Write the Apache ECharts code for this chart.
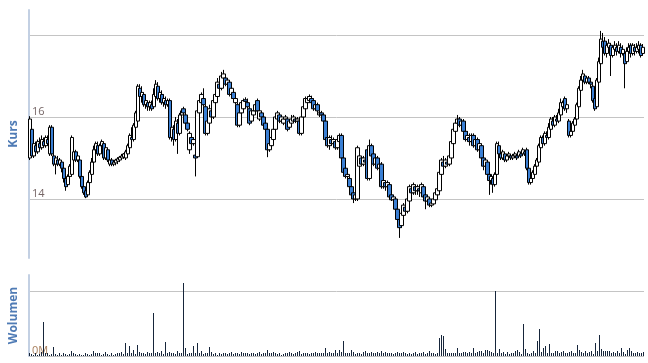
<!DOCTYPE html>
<html>
<head>
<meta charset="utf-8">
<script src="https://cdn.jsdelivr.net/npm/echarts@6/dist/echarts.min.js"></script>
<style>
  html, body { margin: 0; padding: 0; background: #fff; }
  #chart { width: 648px; height: 363px; }
</style>
</head>
<body>
<div id="chart"></div>
<script>
// kurs: [open, close, low, high]
const kurs = [
  [15.00,15.95,14.95,16.02],[15.70,15.05,15.00,15.75],[15.05,15.35,15.00,15.45],[15.30,15.15,15.05,15.40],[15.15,15.40,15.10,15.45],
  [15.35,15.25,15.20,15.50],[15.25,15.45,15.20,15.55],[15.40,15.30,15.25,15.50],[15.30,15.50,15.25,15.55],[15.45,15.35,15.30,15.55],
  [15.10,15.75,15.05,15.80],[15.75,15.10,15.05,15.80],[15.05,14.85,14.80,15.10],[14.85,15.00,14.60,15.05],[14.95,14.85,14.80,15.05],
  [14.85,14.95,14.80,15.00],[14.90,14.75,14.65,14.95],[14.75,14.50,14.40,14.80],[14.50,14.30,14.20,14.55],[14.35,14.55,14.30,14.60],
  [14.55,14.80,14.50,14.85],[14.60,15.50,14.55,15.55],[14.95,15.15,14.90,15.25],[15.15,14.95,14.90,15.20],[14.95,15.05,14.90,15.10],
  [14.95,14.55,14.50,15.00],[14.55,14.30,14.25,14.60],[14.30,14.15,14.10,14.40],[14.20,14.05,14.02,14.25],[14.10,14.40,14.05,14.45],
  [14.40,14.65,14.35,14.70],[14.60,14.90,14.55,15.00],[14.90,15.20,14.85,15.30],[15.20,15.35,15.10,15.40],[15.30,15.10,15.05,15.40],
  [15.10,15.30,15.05,15.35],[15.30,15.40,15.20,15.45],[15.35,15.00,14.95,15.40],[15.00,15.25,14.95,15.30],[15.20,14.95,14.90,15.25],
  [14.85,14.95,14.80,15.00],[14.95,14.85,14.80,15.00],[14.85,14.90,14.80,14.95],[14.88,14.95,14.82,14.98],[14.92,14.98,14.85,15.02],
  [14.95,15.02,14.90,15.05],[15.00,15.05,14.95,15.10],[15.02,15.10,14.98,15.12],[15.00,15.15,14.95,15.20],[15.10,15.30,15.05,15.35],
  [15.25,15.55,15.20,15.60],[15.50,15.45,15.35,15.75],[15.45,15.80,15.40,15.85],[15.75,16.10,15.70,16.15],[15.90,16.75,15.85,16.80],
  [16.70,16.50,16.45,16.80],[16.50,16.60,16.35,16.75],[16.55,16.30,16.25,16.60],[16.30,16.40,16.20,16.45],[16.35,16.25,16.15,16.40],
  [16.25,16.35,16.15,16.40],[16.30,16.20,16.15,16.40],[16.25,16.55,16.20,16.70],[16.50,16.80,16.45,16.90],[16.75,16.45,16.40,16.85],
  [16.45,16.60,16.35,16.70],[16.55,16.35,16.30,16.65],[16.35,16.45,16.25,16.55],[16.40,16.30,16.20,16.50],[16.30,16.40,16.25,16.45],
  [16.40,15.50,15.45,16.45],[15.50,15.75,15.40,15.85],[15.70,15.45,15.30,15.80],[15.45,15.90,15.40,16.00],[15.85,15.60,15.10,15.95],
  [15.60,16.05,15.55,16.10],[16.05,16.15,16.00,16.20],[16.20,16.10,16.05,16.25],[16.05,15.85,15.80,16.10],[15.85,15.70,15.65,15.90],
  [15.20,15.60,15.10,15.65],[15.50,15.35,15.30,15.55],[15.35,15.45,15.30,15.50],[15.07,15.00,14.55,15.10],[15.03,16.15,15.00,16.20],
  [16.10,16.40,16.05,16.45],[16.35,16.55,16.30,16.60],[16.45,16.30,16.25,16.70],[16.25,15.60,15.55,16.30],[15.60,15.90,15.55,16.00],
  [15.85,16.20,15.80,16.30],[16.15,16.00,15.95,16.25],[16.00,16.40,15.95,16.45],[16.35,16.55,16.30,16.65],[16.50,16.85,16.45,16.95],
  [16.80,16.70,16.60,17.00],[16.70,17.00,16.65,17.10],[16.95,17.05,16.85,17.15],[16.95,16.80,16.75,17.05],[16.80,16.90,16.70,16.95],
  [16.85,16.55,16.50,16.90],[16.55,16.70,16.45,16.75],[16.60,16.45,16.40,16.65],[16.35,16.45,16.30,16.55],[16.30,15.80,15.75,16.35],
  [15.80,16.10,15.75,16.15],[16.10,16.35,16.05,16.40],[16.20,16.40,16.15,16.45],[16.42,16.38,16.30,16.48],[16.35,16.25,16.20,16.45],
  [16.20,15.85,15.80,16.25],[15.90,16.15,15.85,16.20],[16.05,16.15,16.00,16.20],[16.15,16.30,16.10,16.35],[16.40,16.15,16.10,16.45],
  [15.95,16.15,15.90,16.20],[16.10,16.00,15.90,16.15],[16.00,15.80,15.75,16.05],[15.85,15.70,15.65,15.90],[15.70,15.20,15.02,15.75],
  [15.20,15.35,15.15,15.40],[15.30,15.50,15.25,15.55],[15.45,15.70,15.40,15.80],[15.70,16.00,15.65,16.05],[15.95,16.10,15.85,16.15],
  [16.05,15.90,15.85,16.10],[15.90,16.00,15.85,16.05],[15.85,15.95,15.80,16.00],[15.95,16.00,15.85,16.05],[15.95,15.70,15.65,16.00],
  [15.75,15.90,15.70,15.95],[15.85,15.95,15.80,16.05],[15.90,16.00,15.85,16.05],[15.95,15.90,15.85,16.00],[15.90,15.95,15.85,16.00],
  [15.90,15.60,15.55,15.95],[15.60,16.00,15.55,16.05],[16.00,16.25,15.95,16.30],[16.20,16.45,16.15,16.50],[16.35,16.45,16.30,16.50],
  [16.40,16.50,16.35,16.55],[16.45,16.35,16.30,16.52],[16.40,16.20,16.15,16.45],[16.20,16.30,16.15,16.35],[16.30,16.15,16.10,16.35],
  [16.05,16.10,16.00,16.15],[16.10,16.05,15.98,16.15],[16.05,15.90,15.85,16.10],[15.90,15.45,15.40,15.95],[15.50,15.30,15.25,15.55],
  [15.30,15.50,15.20,15.55],[15.45,15.35,15.30,15.55],[15.35,15.45,15.30,15.50],[15.40,15.25,15.20,15.45],[15.25,15.45,15.20,15.50],
  [15.40,15.55,15.35,15.60],[15.55,15.00,14.95,15.60],[15.00,14.65,14.60,15.05],[14.75,14.55,14.50,14.80],[14.55,14.60,14.45,14.70],
  [14.50,14.30,14.25,14.55],[14.30,14.10,14.00,14.35],[14.15,14.00,13.90,14.20],[14.00,14.10,13.95,14.15],[14.00,15.25,13.95,15.30],
  [14.80,15.05,14.75,15.10],[15.00,14.85,14.80,15.05],[14.85,15.00,14.80,15.05],[14.95,14.90,14.85,15.00],[15.20,14.50,14.45,15.25],
  [14.50,15.30,14.45,15.45],[15.30,15.05,15.00,15.35],[15.10,14.85,14.80,15.15],[14.85,15.00,14.80,15.05],[15.00,14.75,14.70,15.05],
  [14.75,14.85,14.65,14.90],[14.85,14.30,14.25,14.90],[14.30,14.45,14.25,14.50],[14.40,14.30,14.20,14.45],[14.30,14.40,14.15,14.45],
  [14.35,14.05,14.00,14.40],[14.10,13.98,13.95,14.15],[13.98,14.05,13.90,14.10],[14.00,13.75,13.70,14.05],[13.75,13.50,13.40,13.80],
  [13.50,13.30,13.05,13.55],[13.35,13.65,13.30,13.70],[13.60,13.85,13.55,13.90],[13.80,13.70,13.65,13.90],[13.70,14.00,13.65,14.05],
  [13.95,14.30,13.90,14.35],[14.25,14.15,14.10,14.35],[14.15,14.35,14.10,14.40],[14.30,14.20,14.10,14.35],[14.20,14.30,14.10,14.35],
  [14.25,14.20,14.05,14.30],[14.15,14.35,14.10,14.40],[14.30,14.05,14.00,14.35],[14.10,13.95,13.75,14.15],[13.95,14.05,13.90,14.10],
  [14.00,13.85,13.80,14.05],[13.85,13.90,13.80,13.95],[13.88,14.00,13.85,14.05],[13.98,14.15,13.95,14.20],[14.10,14.25,14.05,14.30],
  [14.20,14.65,14.15,14.70],[14.60,14.95,14.55,15.00],[14.90,14.80,14.75,15.05],[14.80,14.95,14.75,15.00],[14.90,14.85,14.80,15.00],
  [14.85,15.05,14.80,15.10],[15.00,15.40,14.95,15.45],[15.35,15.70,15.30,15.75],[15.65,15.85,15.60,15.95],[15.85,15.95,15.75,16.05],
  [15.95,15.80,15.75,16.00],[15.80,15.90,15.70,15.95],[15.90,15.65,15.60,15.95],[15.65,15.45,15.40,15.70],[15.45,15.55,15.40,15.65],
  [15.50,15.40,15.30,15.60],[15.40,15.55,15.35,15.60],[15.55,15.30,15.25,15.60],[15.30,15.45,15.25,15.55],[15.45,15.20,15.15,15.50],
  [15.20,15.35,15.15,15.40],[15.30,15.00,14.95,15.35],[15.00,14.80,14.70,15.05],[14.80,14.95,14.75,15.00],[14.90,14.60,14.55,14.95],
  [14.60,14.45,14.10,14.65],[14.45,14.55,14.35,14.60],[14.50,14.35,14.15,14.55],[14.35,14.60,14.30,14.65],[14.60,15.35,14.55,15.40],
  [15.30,15.10,15.00,15.40],[15.10,15.00,14.95,15.15],[15.00,15.15,14.95,15.20],[15.10,14.95,14.90,15.15],[14.95,15.05,14.90,15.10],
  [15.05,15.10,15.00,15.15],[15.05,15.00,14.95,15.10],[15.00,15.05,14.95,15.10],[15.05,15.10,15.00,15.15],[15.05,15.00,14.95,15.10],
  [15.05,15.15,15.00,15.20],[15.10,15.05,15.00,15.15],[15.10,15.20,15.05,15.25],[15.15,15.10,15.05,15.20],[15.20,14.75,14.70,15.25],
  [14.75,14.40,14.35,14.80],[14.40,14.50,14.35,14.55],[14.50,14.65,14.45,14.70],[14.60,14.80,14.55,14.85],[14.80,14.95,14.75,15.00],
  [14.90,15.30,14.85,15.35],[15.25,15.50,15.20,15.55],[15.50,15.35,15.30,15.55],[15.35,15.60,15.30,15.65],[15.55,15.50,15.40,15.65],
  [15.50,15.75,15.45,15.85],[15.70,15.95,15.65,16.00],[15.90,15.80,15.75,16.00],[15.80,16.00,15.75,16.05],[15.95,15.90,15.85,16.05],
  [15.90,16.10,15.85,16.20],[16.05,16.35,16.00,16.45],[16.25,16.35,16.20,16.40],[16.45,16.20,16.15,16.50],[16.20,16.30,16.10,16.35],
  [15.90,15.55,15.50,15.95],[15.55,15.65,15.50,15.70],[15.65,15.85,15.60,15.90],[15.80,15.95,15.75,16.00],[15.95,16.30,15.90,16.35],
  [16.25,16.70,16.20,16.75],[16.65,16.90,16.60,17.00],[16.90,17.05,16.80,17.15],[17.00,16.85,16.80,17.05],[16.85,16.95,16.80,17.00],
  [16.95,16.85,16.80,17.00],[16.85,16.80,16.70,16.95],[16.75,16.40,16.35,16.80],[16.45,16.20,16.15,16.50],[16.25,16.90,16.20,16.95],
  [16.85,17.35,16.80,17.45],[17.30,17.90,17.25,18.10],[17.85,17.70,17.60,18.05],[17.85,17.55,17.50,17.95],[17.55,17.75,17.45,17.85],
  [17.70,17.80,17.60,17.90],[17.75,17.50,17.00,17.80],[17.50,17.70,17.45,17.75],[17.65,17.75,17.55,17.85],[17.70,17.60,17.50,17.80],
  [17.60,17.75,17.55,17.85],[17.70,17.55,17.45,17.80],[17.55,17.65,17.50,17.75],[17.55,17.30,16.70,17.60],[17.35,17.60,17.30,17.70],
  [17.60,17.70,17.50,17.80],[17.75,17.55,17.45,17.80],[17.55,17.75,17.50,17.80],[17.70,17.60,17.50,17.78],[17.60,17.70,17.55,17.80],
  [17.65,17.75,17.55,17.85],[17.75,17.50,17.45,17.80],[17.55,17.70,17.50,17.78]
];

// wolumen in Mio.
const wolumen = [
  0.05,0.03,0.02,0.04,0.02,0.03,0.06,0.53,0.05,0.05,
  0.02,0.03,0.14,0.03,0.02,0.04,0.02,0.05,0.03,0.02,
  0.03,0.08,0.04,0.03,0.02,0.03,0.02,0.02,0.05,0.03,
  0.02,0.03,0.07,0.05,0.04,0.05,0.02,0.03,0.06,0.03,
  0.02,0.04,0.02,0.03,0.05,0.04,0.06,0.03,0.20,0.04,
  0.15,0.05,0.09,0.03,0.17,0.06,0.04,0.05,0.03,0.06,
  0.04,0.05,0.67,0.04,0.06,0.05,0.07,0.03,0.21,0.05,
  0.06,0.04,0.05,0.03,0.07,0.04,0.05,1.12,0.12,0.03,
  0.05,0.04,0.15,0.04,0.20,0.05,0.08,0.03,0.05,0.04,
  0.14,0.06,0.03,0.04,0.02,0.05,0.03,0.04,0.05,0.03,
  0.04,0.06,0.03,0.05,0.04,0.03,0.06,0.04,0.05,0.04,
  0.03,0.04,0.05,0.03,0.04,0.06,0.03,0.05,0.04,0.09,
  0.05,0.04,0.06,0.05,0.03,0.04,0.02,0.03,0.04,0.05,
  0.06,0.05,0.03,0.04,0.06,0.07,0.03,0.04,0.05,0.04,
  0.03,0.05,0.04,0.06,0.05,0.04,0.05,0.04,0.12,0.05,
  0.06,0.05,0.04,0.10,0.05,0.10,0.06,0.23,0.05,0.04,
  0.05,0.10,0.06,0.03,0.05,0.04,0.03,0.06,0.08,0.05,
  0.04,0.06,0.05,0.04,0.06,0.05,0.07,0.05,0.06,0.04,
  0.05,0.04,0.03,0.05,0.06,0.04,0.05,0.06,0.04,0.03,
  0.04,0.03,0.05,0.06,0.03,0.04,0.05,0.06,0.03,0.04,
  0.07,0.04,0.05,0.03,0.05,0.28,0.32,0.31,0.11,0.04,
  0.05,0.05,0.04,0.04,0.12,0.04,0.05,0.06,0.06,0.04,
  0.06,0.05,0.12,0.04,0.06,0.07,0.08,0.05,0.09,0.10,
  0.08,0.06,0.04,1.00,0.05,0.11,0.04,0.06,0.03,0.06,
  0.03,0.04,0.05,0.08,0.10,0.06,0.03,0.49,0.11,0.05,
  0.03,0.05,0.08,0.04,0.23,0.41,0.06,0.13,0.15,0.05,
  0.19,0.05,0.05,0.08,0.08,0.04,0.06,0.08,0.05,0.04,
  0.06,0.08,0.05,0.04,0.17,0.09,0.06,0.05,0.07,0.04,
  0.06,0.08,0.03,0.20,0.08,0.32,0.11,0.07,0.07,0.08,
  0.08,0.05,0.06,0.04,0.08,0.04,0.12,0.06,0.03,0.09,
  0.12,0.07,0.05,0.04,0.06,0.04,0.05,0.06
];

const kursTicks = [14, 16, 18];
const kursLabels = [14, 16];
const volTicks = [0, 1];
const volLabels = [0];

const tage = kurs.map((d, i) => i);

const chart = echarts.init(document.getElementById("chart"));

const axisLine = { show: true, lineStyle: { color: "#c3d0e3", width: 2 } };
const nameStyle = { color: "#4f7bb5", fontWeight: "bold", fontSize: 12, fontFamily: "Open Sans" };

// 1px Volumenbalken, auf ganze Pixel gesetzt damit sie scharf bleiben
const renderVolume = (params, api) => {
  const top = api.coord([api.value(0), api.value(1)]);
  const base = api.coord([api.value(0), 0]);
  const x = Math.floor(top[0]);
  const y = Math.round(top[1]);
  return {
    type: "rect",
    shape: { x: x, y: y, width: 1, height: Math.round(base[1]) - y },
    style: { fill: "#16253a" },
  };
};

const option = {
  animation: false,
  grid: [
    { left: 28, width: 616, top: 10, height: 248 },
    { left: 28, width: 616, top: 275, height: 81 },
  ],
  xAxis: [
    { type: "category", gridIndex: 0, data: tage, show: false, boundaryGap: true },
    { type: "category", gridIndex: 1, data: tage, show: false, boundaryGap: true },
  ],
  yAxis: [
    {
      type: "value",
      gridIndex: 0,
      min: 12.56,
      max: 18.61,
      name: "Kurs",
      nameLocation: "middle",
      nameGap: 9,
      nameTextStyle: nameStyle,
      axisLine: axisLine,
      axisTick: { show: false, customValues: kursTicks },
      axisLabel: {
        inside: true,
        customValues: kursLabels,
        verticalAlign: "bottom",
        margin: 3,
        color: "#766666",
        fontSize: 11,
        fontFamily: "Open Sans",
      },
      splitLine: { show: true, lineStyle: { color: "#c4c4c4", width: 1 } },
    },
    {
      type: "value",
      gridIndex: 1,
      min: 0,
      max: 1.25,
      name: "Wolumen",
      nameLocation: "middle",
      nameGap: 9,
      nameTextStyle: nameStyle,
      axisLine: axisLine,
      axisTick: { show: false, customValues: volTicks },
      axisLabel: {
        inside: true,
        customValues: volLabels,
        verticalAlign: "bottom",
        margin: 3,
        color: "#a9805e",
        fontSize: 11,
        fontFamily: "Open Sans",
        formatter: (v) => v + "M",
      },
      splitLine: { show: true, lineStyle: { color: "#c4c4c4", width: 1 } },
    },
  ],
  series: [
    {
      type: "candlestick",
      xAxisIndex: 0,
      yAxisIndex: 0,
      data: kurs,
      barWidth: 4,
      itemStyle: {
        color: "#ffffff",
        color0: "#3a7fd4",
        borderColor: "#000000",
        borderColor0: "#000000",
        borderWidth: 1,
      },
    },
    {
      type: "custom",
      xAxisIndex: 1,
      yAxisIndex: 1,
      data: wolumen.map((v, i) => [i, v]),
      encode: { x: 0, y: 1 },
      renderItem: renderVolume,
    },
  ],
};

chart.setOption(option);
</script>
</body>
</html>
